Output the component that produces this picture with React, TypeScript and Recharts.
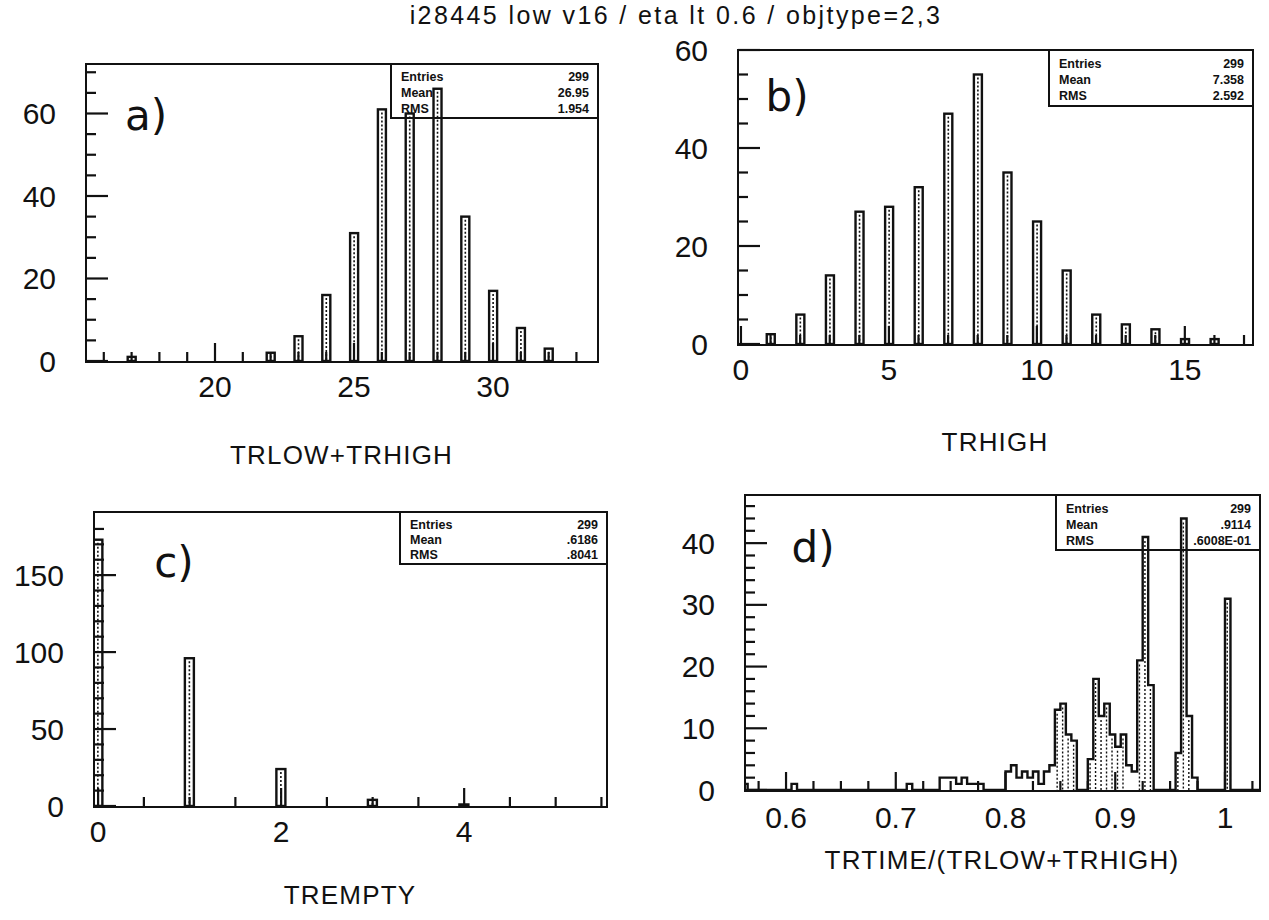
import React from 'react';
import { ComposedChart, Bar, Area, XAxis, YAxis } from 'recharts';

const FONT = '"Liberation Sans", "DejaVu Sans", Arial, sans-serif';
const INK = '#111';

const pageTitle = 'i28445 low v16 / eta lt 0.6 / objtype=2,3';
const statNames = ['Entries', 'Mean', 'RMS'];

// a) TRLOW+TRHIGH
const sumX = [17, 22, 23, 24, 25, 26, 27, 28, 29, 30, 31, 32];
const sumCounts = [1, 2, 6, 16, 31, 61, 60, 66, 35, 17, 8, 3];
const sumTickLabels = [20, 25, 30];
const sumCountLabels = [0, 20, 40, 60];
const sumStats = ['299', '26.95', '1.954'];

// b) TRHIGH
const highX = [1, 2, 3, 4, 5, 6, 7, 8, 9, 10, 11, 12, 13, 14, 15, 16];
const highCounts = [2, 6, 14, 27, 28, 32, 47, 55, 35, 25, 15, 6, 4, 3, 1, 1];
const highTickLabels = [0, 5, 10, 15];
const highCountLabels = [0, 20, 40, 60];
const highStats = ['299', '7.358', '2.592'];

// c) TREMPTY
const emptyX = [0, 1, 2, 3, 4];
const emptyCounts = [173, 96, 24, 4, 1];
const emptyTickLabels = [0, 2, 4];
const emptyCountLabels = [0, 50, 100, 150];
const emptyStats = ['299', '.6186', '.8041'];

// d) TRTIME/(TRLOW+TRHIGH), bins of 0.005 starting at 0.560
const ratioStart = 0.56;
const ratioBinWidth = 0.005;
const ratioCounts = [
  1, 0, 0, 0, 0, 0, 0, 0, 0, 1, // 0.560 - 0.605
  0, 0, 0, 0, 0, 0, 0, 0, 0, 0, // 0.610 - 0.655
  0, 0, 0, 0, 0, 0, 0, 0, 0, 0, // 0.660 - 0.705
  1, 0, 0, 0, 0, 0, 2, 2, 2, 1, // 0.710 - 0.755
  2, 1, 1, 1, 0, 0, 0, 0, 3, 4, // 0.760 - 0.805
  2, 3, 2, 3, 1, 3, 4, 13, 14, 9, // 0.810 - 0.855
  8, 0, 0, 5, 18, 12, 14, 9, 7, 9, // 0.860 - 0.905
  4, 3, 21, 41, 17, 0, 0, 0, 0, 6, // 0.910 - 0.955
  44, 12, 2, 0, 0, 0, 0, 0, 31, 0, // 0.960 - 1.005
  0, 0, 0, 0, 0, // 1.010 - 1.030
];
const ratioTickLabels = [0.6, 0.7, 0.8, 0.9, 1];
const ratioCountLabels = [0, 10, 20, 30, 40];
const ratioStats = ['299', '.9114', '.6008E-01'];

const range = (a: number, b: number, step: number) => {
  const out: number[] = [];
  for (let i = 0; a + i * step <= b + step / 1000; i++) out.push(Number((a + i * step).toFixed(4)));
  return out;
};

const hasLabel = (labels: number[], v: number) => labels.some((l) => Math.abs(l - v) < 1e-6);

const makeXTick = (labels: number[], gap: number) => (props: any) => {
  const { x, y, payload } = props;
  const v = payload.value as number;
  const major = hasLabel(labels, v);
  return (
    <g>
      <line x1={x} x2={x} y1={y} y2={y - (major ? 18 : 9)} stroke={INK} strokeWidth={2.2} />
      {major && (
        <text x={x} y={y + gap} textAnchor="middle" dominantBaseline="central" fontSize={30} fontFamily={FONT} fill={INK}>
          {String(v)}
        </text>
      )}
    </g>
  );
};

const makeYTick = (labels: number[]) => (props: any) => {
  const { x, y, payload } = props;
  const v = payload.value as number;
  const major = hasLabel(labels, v);
  return (
    <g>
      <line x1={x} x2={x + (major ? 22 : 10)} y1={y} y2={y} stroke={INK} strokeWidth={2.2} />
      {major && (
        <text x={x - 30} y={y} textAnchor="end" dominantBaseline="central" fontSize={30} fontFamily={FONT} fill={INK}>
          {String(v)}
        </text>
      )}
    </g>
  );
};

// narrow histogram bin, outlined, with the dotted fill of the plotter
const HatchBar = (props: any) => {
  const { x, y, width, height } = props;
  if (!height || height <= 0) return null;
  const cx = x + width / 2;
  return (
    <g>
      <rect x={x} y={y} width={width} height={height} fill="#fff" stroke={INK} strokeWidth={2.4} />
      {height > 6 && (
        <line x1={cx} x2={cx} y1={y + 3} y2={y + height} stroke={INK} strokeWidth={1.6} strokeDasharray="2 2" />
      )}
    </g>
  );
};

// dotted texture inside the taller bins of the step histogram (bar is centred on the bin's low edge)
const StepHatch = (props: any) => {
  const { x, y, width, height } = props;
  if (!height || height < 30) return null;
  const cx = x + width;
  return <line x1={cx} x2={cx} y1={y + 4} y2={y + height} stroke={INK} strokeWidth={1.4} strokeDasharray="2 2" />;
};

interface Frame { left: number; top: number; right: number; bottom: number }

interface PanelProps {
  frame: Frame;
  xDomain: [number, number];
  yDomain: [number, number];
  xTicks: number[];
  xLabels: number[];
  yTicks: number[];
  yLabels: number[];
  data: { x: number; n: number }[];
  step?: boolean;
  barSize: number;
  stats: string[];
  statsLeft: number;
  statsHeight: number;
  letter: string;
  letterAt: [number, number];
  axisTitle: string;
  axisTitleY: number;
  labelGap: number;
}

const ML = 110;
const MT = 20;
const MR = 15;
const MB = 60;

function Panel(p: PanelProps) {
  const fw = p.frame.right - p.frame.left;
  const fh = p.frame.bottom - p.frame.top;
  return (
    <>
      <div style={{ position: 'absolute', left: p.frame.left - ML, top: p.frame.top - MT }}>
        <ComposedChart
          width={fw + ML + MR}
          height={fh + MT + MB}
          data={p.data}
          margin={{ top: MT, right: MR, bottom: 10, left: 10 }}
        >
          <XAxis
            dataKey="x"
            type="number"
            domain={p.xDomain}
            allowDataOverflow
            ticks={p.xTicks}
            interval={0}
            height={50}
            tickSize={0}
            tickMargin={0}
            axisLine={false}
            tickLine={false}
            tick={makeXTick(p.xLabels, p.labelGap)}
          />
          <YAxis
            type="number"
            domain={p.yDomain}
            allowDataOverflow
            ticks={p.yTicks}
            interval={0}
            width={100}
            tickSize={0}
            tickMargin={0}
            axisLine={false}
            tickLine={false}
            tick={makeYTick(p.yLabels)}
          />
          {p.step && <Bar dataKey="n" barSize={p.barSize} shape={StepHatch} isAnimationActive={false} />}
          {p.step ? (
            <Area
              type="stepAfter"
              dataKey="n"
              stroke={INK}
              strokeWidth={2.4}
              fill="none"
              dot={false}
              activeDot={false}
              isAnimationActive={false}
            />
          ) : (
            <Bar dataKey="n" barSize={p.barSize} shape={HatchBar} isAnimationActive={false} />
          )}
        </ComposedChart>
      </div>
      {/* frame */}
      <div
        style={{
          position: 'absolute',
          left: p.frame.left - 1,
          top: p.frame.top - 1,
          width: fw + 3,
          height: fh + 3,
          border: `2.5px solid ${INK}`,
          boxSizing: 'border-box',
        }}
      />
      {/* statistics box */}
      <div
        style={{
          position: 'absolute',
          left: p.statsLeft,
          top: p.frame.top - 1,
          width: p.frame.right - p.statsLeft + 2,
          height: p.statsHeight,
          border: `2.5px solid ${INK}`,
          boxSizing: 'border-box',
          fontFamily: FONT,
          fontWeight: 700,
          fontSize: 12.5,
          color: INK,
        }}
      >
        {statNames.map((name, i) => (
          <div
            key={name}
            style={{
              position: 'absolute',
              left: 9,
              right: 8,
              top: (0.24 + 0.28 * i) * p.statsHeight - 8,
              display: 'flex',
              justifyContent: 'space-between',
              lineHeight: '14px',
            }}
          >
            <span>{name}</span>
            <span>{p.stats[i]}</span>
          </div>
        ))}
      </div>
      {/* panel letter */}
      <div
        style={{
          position: 'absolute',
          left: p.letterAt[0],
          top: p.letterAt[1],
          transform: 'translate(-50%, -50%)',
          fontFamily: '"DejaVu Sans", sans-serif',
          fontSize: 42,
          color: INK,
          whiteSpace: 'nowrap',
        }}
      >
        {p.letter}
      </div>
      {/* axis title */}
      <div
        style={{
          position: 'absolute',
          left: p.frame.left + fw / 2,
          top: p.axisTitleY,
          transform: 'translate(-50%, -50%)',
          fontFamily: FONT,
          fontSize: 26,
          letterSpacing: 1.2,
          color: INK,
          whiteSpace: 'nowrap',
        }}
      >
        {p.axisTitle}
      </div>
    </>
  );
}

const sumData = sumX.map((x, i) => ({ x, n: sumCounts[i] }));
const highData = highX.map((x, i) => ({ x, n: highCounts[i] }));
const emptyData = emptyX.map((x, i) => ({ x, n: emptyCounts[i] }));
const ratioData = [
  ...ratioCounts.map((n, i) => ({ x: Number((ratioStart + i * ratioBinWidth).toFixed(4)), n })),
  { x: Number((ratioStart + ratioCounts.length * ratioBinWidth).toFixed(4)), n: 0 },
];

export default function App() {
  return (
    <div style={{ position: 'absolute', left: 0, top: 0, width: 1269, height: 920, background: '#fff', overflow: 'hidden' }}>
      <div
        style={{
          position: 'absolute',
          left: 676,
          top: 15,
          transform: 'translate(-50%, -50%)',
          fontFamily: FONT,
          fontSize: 25,
          letterSpacing: 2.4,
          color: INK,
          whiteSpace: 'nowrap',
        }}
      >
        {pageTitle}
      </div>

      <Panel
        frame={{ left: 86, top: 64, right: 597, bottom: 361 }}
        xDomain={[15.36, 33.74]}
        yDomain={[0, 72]}
        xTicks={range(16, 33, 1)}
        xLabels={sumTickLabels}
        yTicks={range(0, 70, 5)}
        yLabels={sumCountLabels}
        data={sumData}
        barSize={8}
        stats={sumStats}
        statsLeft={390}
        statsHeight={56}
        letter="a)"
        letterAt={[146, 115]}
        axisTitle="TRLOW+TRHIGH"
        axisTitleY={455}
        labelGap={25}
      />

      <Panel
        frame={{ left: 738, top: 50, right: 1252, bottom: 344 }}
        xDomain={[-0.1, 17.27]}
        yDomain={[0, 60]}
        xTicks={range(0, 17, 1)}
        xLabels={highTickLabels}
        yTicks={range(0, 60, 5)}
        yLabels={highCountLabels}
        data={highData}
        barSize={8}
        stats={highStats}
        statsLeft={1048}
        statsHeight={58}
        letter="b)"
        letterAt={[787, 96]}
        axisTitle="TRHIGH"
        axisTitleY={442}
        labelGap={25}
      />

      <Panel
        frame={{ left: 94, top: 512, right: 606, bottom: 806 }}
        xDomain={[-0.045, 5.55]}
        yDomain={[0, 191]}
        xTicks={range(0, 5.5, 0.5)}
        xLabels={emptyTickLabels}
        yTicks={range(0, 180, 10)}
        yLabels={emptyCountLabels}
        data={emptyData}
        barSize={9}
        stats={emptyStats}
        statsLeft={399}
        statsHeight={54}
        letter="c)"
        letterAt={[174, 562]}
        axisTitle="TREMPTY"
        axisTitleY={895}
        labelGap={25}
      />

      <Panel
        frame={{ left: 745, top: 495, right: 1259, bottom: 790 }}
        xDomain={[0.5626, 1.031]}
        yDomain={[0, 47.8]}
        xTicks={range(0.575, 1.025, 0.025)}
        xLabels={ratioTickLabels}
        yTicks={range(0, 46, 2)}
        yLabels={ratioCountLabels}
        data={ratioData}
        step
        barSize={5}
        stats={ratioStats}
        statsLeft={1055}
        statsHeight={57}
        letter="d)"
        letterAt={[813, 547]}
        axisTitle="TRTIME/(TRLOW+TRHIGH)"
        axisTitleY={860}
        labelGap={27}
      />
    </div>
  );
}
